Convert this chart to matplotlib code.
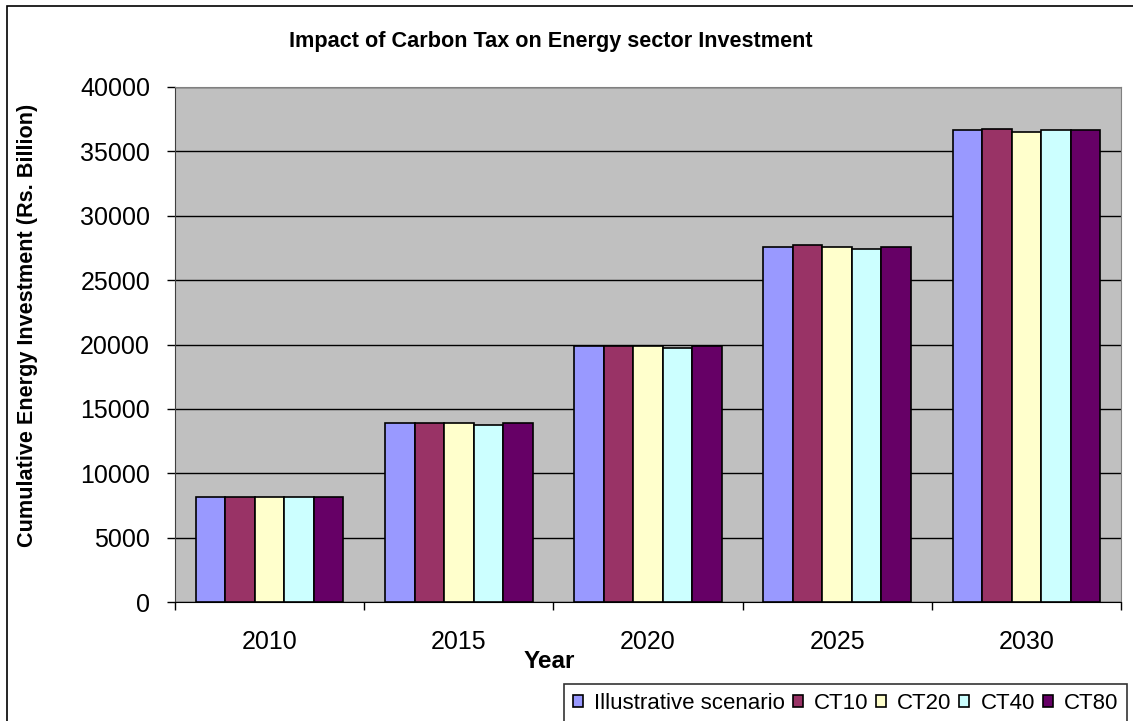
import numpy as np
import matplotlib
matplotlib.use("Agg")
import matplotlib.pyplot as plt
from matplotlib.patches import Rectangle

plt.rcParams['font.family'] = ['Liberation Sans', 'DejaVu Sans']

# ---- data (Rs. Billion, cumulative) ----
years = ['2010', '2015', '2020', '2025', '2030']
illustrative = [8180, 13930, 19890, 27570, 36630]
ct10 = [8180, 13930, 19890, 27730, 36760]
ct20 = [8180, 13930, 19890, 27570, 36510]
ct40 = [8180, 13780, 19740, 27440, 36630]
ct80 = [8180, 13930, 19890, 27570, 36630]

series = [illustrative, ct10, ct20, ct40, ct80]
names = ['Illustrative scenario', 'CT10', 'CT20', 'CT40', 'CT80']
colors = ['#9999FF', '#993366', '#FFFFCC', '#CCFFFF', '#660066']

fig = plt.figure(figsize=(11.33, 7.21), dpi=100)
ax = fig.add_axes([175 / 1133, 1 - 602 / 721, (1121 - 175) / 1133, (602 - 87) / 721])
ax.set_facecolor('#C0C0C0')

x = np.arange(len(years))
w = 0.156
for k, (vals, name, col) in enumerate(zip(series, names, colors)):
    ax.bar(x + (k - 2) * w, vals, width=w, color=col, edgecolor='black',
           linewidth=1.2, label=name, zorder=3)

ax.set_xlim(-0.5, len(years) - 0.5)
ax.set_ylim(0, 40000)
ax.set_yticks(range(0, 40001, 5000))
ax.yaxis.grid(True, color='black', linewidth=1.0, zorder=1)
ax.set_axisbelow(True)

# category ticks sit on the group boundaries, labels in the middle
ax.set_xticks(np.arange(-0.5, len(years), 1.0))
ax.set_xticklabels([])
ax.set_xticks(x, minor=True)
ax.set_xticklabels(years, minor=True)
ax.tick_params(axis='x', which='minor', length=0, pad=20, labelsize=18)
ax.tick_params(axis='x', which='major', length=6, width=1, direction='out')
ax.tick_params(axis='y', length=6, width=1, direction='out', pad=12, labelsize=18)

for side in ['top', 'right']:
    ax.spines[side].set_color('#808080')
ax.spines['left'].set_color('#404040')
ax.spines['bottom'].set_color('black')

fig.text(551 / 1133, 1 - 42 / 721, 'Impact of Carbon Tax on Energy sector Investment',
         ha='center', va='center', fontsize=15.6, fontweight='bold')
fig.text(28 / 1133, 1 - 325 / 721, 'Cumulative Energy Investment (Rs. Billion)',
         ha='center', va='center', rotation=90, fontsize=15.6, fontweight='bold')
fig.text(549 / 1133, 1 - 662 / 721, 'Year', ha='center', va='center',
         fontsize=17.5, fontweight='bold')

# chart border
fig.patches.append(Rectangle((7 / 1133, -0.05), 1.1, 1 - 6 / 721 + 0.05,
                             transform=fig.transFigure, fill=False,
                             edgecolor='black', linewidth=1.2, clip_on=False))

leg = fig.legend(loc='upper left', bbox_to_anchor=(564 / 1133, 1 - 684 / 721),
                 ncol=5, fontsize=16, frameon=True, fancybox=False,
                 handlelength=0.45, handleheight=0.45, handletextpad=0.5,
                 columnspacing=0.35, borderpad=0.4, borderaxespad=0)
leg.get_frame().set_edgecolor('black')
leg.get_frame().set_linewidth(1.2)

fig.savefig('out.png', dpi=100)
